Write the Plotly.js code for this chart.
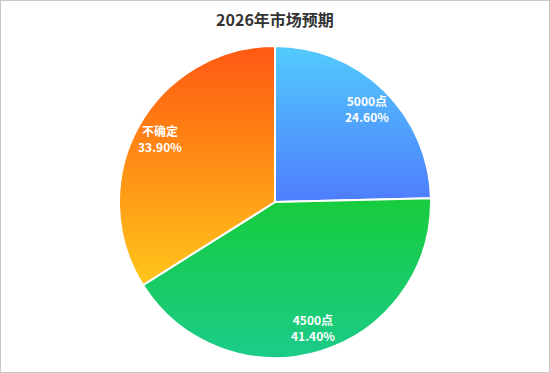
<!DOCTYPE html>
<html>
<head>
<meta charset="utf-8">
<script src="https://cdn.plot.ly/plotly-3.0.1.min.js"></script>
<style>
  html, body { margin: 0; padding: 0; background: #fff; }
  #wrap { position: relative; width: 550px; height: 373px; }
  #chart { width: 550px; height: 373px; }
  #frame { position: absolute; left: 0; top: 0; width: 550px; height: 373px; box-sizing: border-box; border: 1px solid #c8c8c8; pointer-events: none; }
</style>
</head>
<body>
<div id="wrap">
  <div id="chart"></div>
  <div id="frame"></div>
</div>
<script>
// ---- data ----
const labels = ["5000点", "4500点", "不确定"];
const values = [24.6, 41.4, 33.9];
const percentText = ["24.60%", "41.40%", "33.90%"];
const chartTitle = "2026年市场预期";

// ---- style ----
const gradients = [
  ["#52cbfc", "#4e7dfd"],
  ["#17cc3c", "#1ccb8a"],
  ["#ff5812", "#ffc61a"]
];
const labelRadius = 0.84;
const W = 550, H = 373;
const margin = {l: 0, r: 0, t: 46, b: 15};
const font = '"Noto Sans CJK SC", "Noto Sans", sans-serif';

const total = values.reduce((a, b) => a + b, 0);
const plotW = W - margin.l - margin.r;
const plotH = H - margin.t - margin.b;
const R = Math.min(plotW, plotH) / 2;

// label annotations placed along each slice bisector
let cum = 0;
const annotations = values.map((v, i) => {
  const th = 2 * Math.PI * (cum + v / 2) / total;
  cum += v;
  return {
    xref: 'paper', yref: 'paper',
    x: 0.5 + labelRadius * R * Math.sin(th) / plotW,
    y: 0.5 + labelRadius * R * Math.cos(th) / plotH,
    text: labels[i] + '<br>' + percentText[i],
    showarrow: false,
    xanchor: 'center', yanchor: 'middle',
    align: 'center',
    font: {family: font, size: 12, color: '#ffffff', weight: 'bold'}
  };
});

const trace = {
  type: 'pie',
  labels: labels,
  values: values,
  sort: false,
  direction: 'clockwise',
  rotation: 0,
  textinfo: 'none',
  hoverinfo: 'skip',
  marker: {
    colors: gradients.map(g => g[0]),
    line: {color: '#ffffff', width: 2}
  },
  domain: {x: [0, 1], y: [0, 1]}
};

const layout = {
  width: W, height: H,
  margin: margin,
  showlegend: false,
  paper_bgcolor: '#ffffff',
  title: {
    text: chartTitle,
    x: 0.5, xanchor: 'center',
    y: 1 - 20 / H, yanchor: 'middle',
    font: {family: font, size: 16, color: '#333333', weight: 'bold'}
  },
  annotations: annotations
};

Plotly.newPlot('chart', [trace], layout, {displayModeBar: false, staticPlot: true}).then(gd => {
  const svg = gd.querySelector('svg.main-svg');
  const NS = 'http://www.w3.org/2000/svg';
  let defs = svg.querySelector('defs');
  if (!defs) { defs = document.createElementNS(NS, 'defs'); svg.insertBefore(defs, svg.firstChild); }
  gradients.forEach((g, i) => {
    const lg = document.createElementNS(NS, 'linearGradient');
    lg.setAttribute('id', 'sliceGrad' + i);
    lg.setAttribute('x1', '0'); lg.setAttribute('y1', '0');
    lg.setAttribute('x2', '0'); lg.setAttribute('y2', '1');
    [[0, g[0]], [1, g[1]]].forEach(([o, c]) => {
      const s = document.createElementNS(NS, 'stop');
      s.setAttribute('offset', o);
      s.setAttribute('stop-color', c);
      lg.appendChild(s);
    });
    defs.appendChild(lg);
  });
  const paths = gd.querySelectorAll('g.slice path.surface');
  paths.forEach((p, i) => { p.style.fill = 'url(#sliceGrad' + i + ')'; });
});
</script>
</body>
</html>
